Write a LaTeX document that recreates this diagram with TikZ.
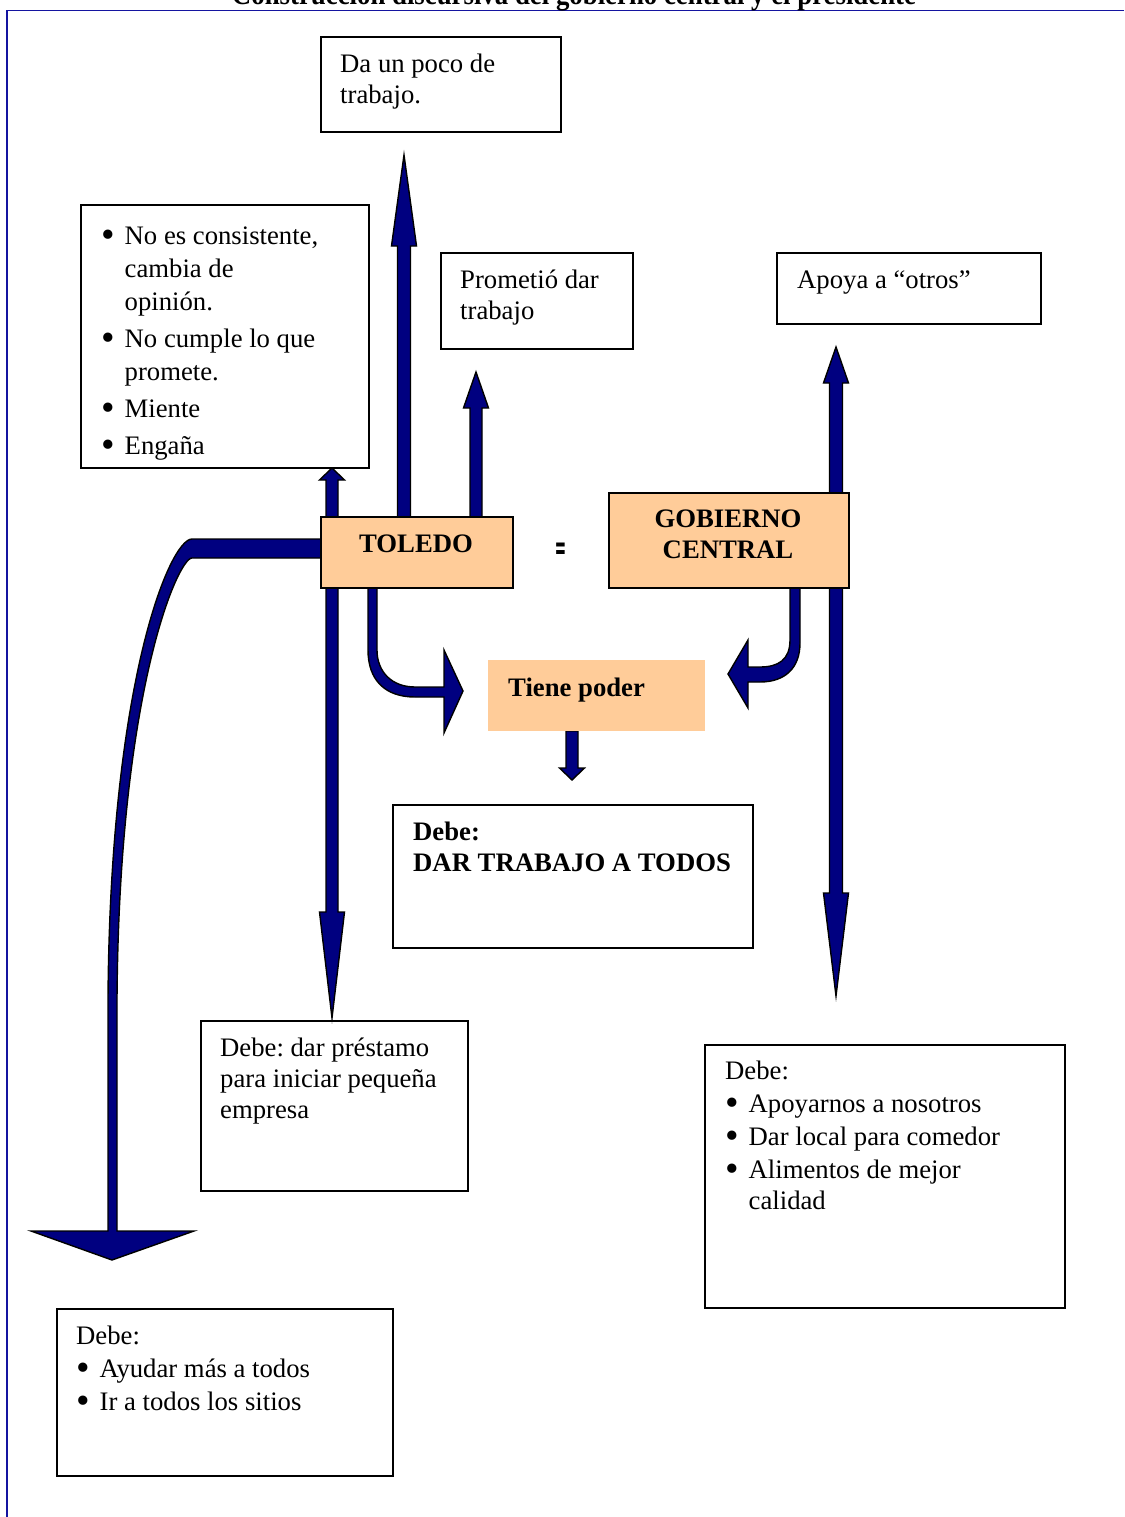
\documentclass[tikz,border=0pt]{standalone}
\usepackage{fontspec}
\setmainfont{Liberation Serif}
\newfontfamily\colonfont{DejaVu Sans}
\usetikzlibrary{backgrounds}
\definecolor{peach}{HTML}{FFCC99}
\definecolor{arrowblue}{HTML}{000080}
\definecolor{frameblue}{HTML}{1414A0}
\newcommand{\bodyfont}{\fontsize{26.7}{31}\selectfont\frenchspacing}
\newcommand{\bul}{\makebox[23.5pt][l]{\smash{\raisebox{-2.8pt}{\scalebox{1.45}{\textbullet}}}}}
\newcommand{\ind}{\hspace*{23.5pt}}
% straight block arrow: x, tail y, head base y, tip y, half shaft, half head
\newcommand{\vblock}[6]{%
  \filldraw[blockarrow] ({#1-#5},#2) -- ({#1-#5},#3) -- ({#1-#6},#3) -- (#1,#4)
    -- ({#1+#6},#3) -- ({#1+#5},#3) -- ({#1+#5},#2) -- cycle;}
% double block arrow: x, upper tip, upper base, lower base, lower tip, half shaft, half head
\newcommand{\vdouble}[7]{%
  \filldraw[blockarrow] ({#1-#6},#3) -- ({#1-#7},#3) -- (#1,#2) -- ({#1+#7},#3)
    -- ({#1+#6},#3) -- ({#1+#6},#4) -- ({#1+#7},#4) -- (#1,#5) -- ({#1-#7},#4)
    -- ({#1-#6},#4) -- cycle;}
\begin{document}
\begin{tikzpicture}[x=1pt,y=-1pt,
  box/.style={draw=black, line width=1.6pt, anchor=north west, inner sep=0pt},
  keybox/.style={box, fill=peach},
  txt/.style={anchor=north west, inner sep=0pt, align=left, font=\bodyfont},
  blockarrow/.style={fill=arrowblue, draw=black, line width=1.4pt, line join=miter}]
\useasboundingbox (0,0) rectangle (1124,1517);

% page frame and title
\draw[frameblue, line width=1.6pt] (1124,10.5) -- (7,10.5) -- (7,1517);
\node[anchor=base, inner sep=0pt, font=\fontsize{30}{34}\selectfont\bfseries] (title) at (574,5)
  {\resizebox{684pt}{\height}{Construcción discursiva del gobierno central y el presidente}};

% central nodes
\node[keybox, minimum width=192pt, minimum height=71pt] (toledo) at (320,516) {};
\node[anchor=base, inner sep=0pt, font=\bodyfont\bfseries] (toledoT) at (416,552) {TOLEDO};
\node[keybox, minimum width=240pt, minimum height=95pt] (gob) at (608,492) {};
\node[anchor=north, inner sep=0pt, align=center, font=\bodyfont\bfseries] (gobT) at (728,505.3)
  {\strut GOBIERNO\\CENTRAL};
\node[anchor=base, inner sep=0pt, font=\fontsize{21}{25}\selectfont\colonfont\bfseries] (colon) at (560.5,554)
  {\scalebox{2.3}[1]{:}};
\node[anchor=north west, fill=peach, inner sep=0pt, minimum width=217pt, minimum height=71pt] (poder) at (488,660) {};
\node[anchor=base west, inner sep=0pt, font=\bodyfont\bfseries] (poderT) at (508,696) {Tiene poder};

% text boxes
\node[box, minimum width=240pt, minimum height=95pt] (b1) at (320,36) {};
\node[txt] (b1T) at (340,50.3) {\strut Da un poco de\\trabajo.};

\node[box, minimum width=288pt, minimum height=263pt] (b2) at (80,204) {};
\node[txt, font=\fontsize{26.7}{33.3}\selectfont] (b2T) at (101,220.7)
  {\strut\bul No es consistente,\\\ind cambia de\\\ind opinión.\\[3.5pt]\bul No cumple lo que\\\ind promete.\\[3.5pt]\bul Miente\\[3.5pt]\bul Engaña};

\node[box, minimum width=192pt, minimum height=96pt] (b3) at (440,252) {};
\node[txt] (b3T) at (460,266.3) {\strut Prometió dar\\trabajo};

\node[box, minimum width=264pt, minimum height=71pt] (b4) at (776,252) {};
\node[txt] (b4T) at (797,266.3) {\strut Apoya a “otros”};

\node[box, minimum width=360pt, minimum height=143pt] (b5) at (392,804) {};
\node[txt, font=\bodyfont\bfseries] (b5T) at (413,818.3) {\strut Debe:\\DAR TRABAJO A TODOS};

\node[box, minimum width=267pt, minimum height=170pt] (b6) at (200,1020) {};
\node[txt] (b6T) at (220,1034.3) {\strut Debe: dar préstamo\\para iniciar pequeña\\empresa};

\node[box, minimum width=360pt, minimum height=263pt] (b7) at (704,1044) {};
\node[txt] (b7T) at (725,1057.3)
  {\strut Debe:\\[2pt]\bul Apoyarnos a nosotros\\[2pt]\bul Dar local para comedor\\[2pt]\bul Alimentos de mejor\\\ind calidad};

\node[box, minimum width=336pt, minimum height=167pt] (b8) at (56,1308) {};
\node[txt] (b8T) at (76,1322.3)
  {\strut Debe:\\[2pt]\bul Ayudar más a todos\\[2pt]\bul Ir a todos los sitios};

% block arrows, behind the boxes
\begin{scope}[on background layer]
  % Toledo upwards
  \vblock{404}{530}{246}{155}{6.5}{12.5}
  \vblock{476}{530}{408}{372}{6}{12.5}
  % Toledo up and down
  \vdouble{332}{468}{480}{912}{1018}{6}{12.5}
  % Gobierno up and down
  \vdouble{836}{347}{383}{893}{996}{6.5}{12.5}
  % Tiene poder downwards
  \vblock{572}{731}{768}{780}{6}{12.5}
  % Toledo bent arrow to Tiene poder
  \filldraw[blockarrow] (368,580) -- (368,650) .. controls (368,680) and (385,697) .. (415,697)
    -- (444,697) -- (444,733) -- (463,691) -- (444,650) -- (444,687) -- (415,687)
    .. controls (392,687) and (377,672) .. (377,650) -- (377,580) -- cycle;
  % Gobierno bent arrow to Tiene poder
  \filldraw[blockarrow] (790,580) -- (790,640) .. controls (790,660) and (778,667) .. (760,667)
    -- (748,667) -- (748,640) -- (728,674) -- (748,708) -- (748,682) -- (760,682)
    .. controls (785,682) and (800,668) .. (800,643) -- (800,580) -- cycle;
  % long bent arrow from Toledo down the left side
  \filldraw[blockarrow] (330,539) -- (192,539) .. controls (170,539) and (110,680) .. (108,1000)
    -- (108,1231) -- (31,1231) -- (112,1260) -- (194,1231) -- (117,1231) -- (117,1000)
    .. controls (119,690) and (178,558) .. (192,558) -- (330,558) -- cycle;
\end{scope}
\end{tikzpicture}
\end{document}
